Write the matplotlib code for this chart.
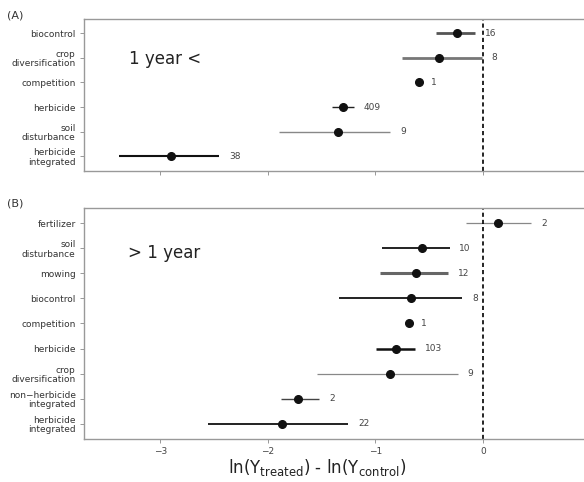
import numpy as np
import matplotlib.pyplot as plt

# panel A: effects within one year
cats_a = ['biocontrol', 'crop\ndiversification', 'competition', 'herbicide',
          'soil\ndisturbance', 'herbicide\nintegrated']
mean_a = [-0.24, -0.41, -0.59, -1.30, -1.35, -2.90]
lo_a = [-0.44, -0.75, np.nan, -1.40, -1.90, -3.38]
hi_a = [-0.07, -0.01, np.nan, -1.20, -0.86, -2.45]
n_a = [16, 8, 1, 409, 9, 38]

# panel B: effects after more than one year
cats_b = ['fertilizer', 'soil\ndisturbance', 'mowing', 'biocontrol', 'competition',
          'herbicide', 'crop\ndiversification', 'non\u2212herbicide\nintegrated',
          'herbicide\nintegrated']
mean_b = [0.14, -0.57, -0.62, -0.67, -0.69, -0.81, -0.86, -1.72, -1.87]
lo_b = [-0.16, -0.94, -0.96, -1.34, np.nan, -0.99, -1.54, -1.88, -2.56]
hi_b = [0.45, -0.31, -0.32, -0.19, np.nan, -0.63, -0.23, -1.52, -1.25]
n_b = [2, 10, 12, 8, 1, 103, 9, 2, 22]

# line styles for the CI bars
style_a = [('#555555', 2.0), ('#777777', 2.0), ('#000000', 1.0),
           ('#222222', 1.0), ('#888888', 1.0), ('#111111', 1.5)]
style_b = [('#888888', 0.9), ('#111111', 1.3), ('#666666', 2.2), ('#111111', 1.3),
           ('#000000', 1.0), ('#111111', 1.8), ('#888888', 0.9), ('#444444', 1.0),
           ('#111111', 1.3)]

fig = plt.figure(figsize=(5.84, 4.82), dpi=100)
ax_a = fig.add_axes([0.1438, 0.645, 0.856, 0.3154])
ax_b = fig.add_axes([0.1438, 0.0892, 0.856, 0.4793])


def forest(ax, cats, mean, lo, hi, n, styles, show_xlabels):
    y = np.arange(len(cats))
    for i in range(len(cats)):
        col, lw = styles[i]
        if not np.isnan(lo[i]):
            ax.plot([lo[i], hi[i]], [y[i], y[i]], color=col, lw=lw, solid_capstyle='butt')
            xt = hi[i] + 0.09
        else:
            xt = mean[i] + 0.11
        ax.plot(mean[i], y[i], 'o', color='#111111', ms=5.5)
        ax.text(xt, y[i], str(n[i]), va='center', ha='left', fontsize=6.5, color='#444444')
    ax.axvline(0, color='black', ls=(0, (2.5, 1.8)), lw=1.2)
    ax.set_xlim(-3.71, 0.94)
    ax.set_yticks(y)
    ax.set_yticklabels(cats, fontsize=6.5, color='#333333', linespacing=1.05)
    ax.set_xticks([-3, -2, -1, 0])
    if show_xlabels:
        ax.set_xticklabels(['\u22123', '\u22122', '\u22121', '0'], fontsize=6.5, color='#444444')
    else:
        ax.set_xticklabels([])
    ax.tick_params(length=3, width=0.6, color='#888888', pad=3)
    for s in ['left', 'bottom', 'top']:
        ax.spines[s].set_color('#999999')
        ax.spines[s].set_linewidth(1.0)
    ax.spines['right'].set_visible(False)


forest(ax_a, cats_a, mean_a, lo_a, hi_a, n_a, style_a, False)
forest(ax_b, cats_b, mean_b, lo_b, hi_b, n_b, style_b, True)
ax_a.set_ylim(5.6, -0.57)
ax_b.set_ylim(8.6, -0.6)

ax_a.text(-3.29, 1.05, '1 year <', fontsize=12, color='#222222', va='center')
ax_b.text(-3.30, 1.2, '> 1 year', fontsize=12, color='#222222', va='center')

fig.text(0.012, 0.968, '(A)', fontsize=8, color='#333333', va='center')
fig.text(0.012, 0.578, '(B)', fontsize=8, color='#333333', va='center')

fig.text(317 / 584, 1 - 467 / 482,
         r'ln(Y$_{\mathrm{treated}}$) - ln(Y$_{\mathrm{control}}$)',
         fontsize=12, color='#222222', ha='center', va='center')

fig.savefig('out.png', dpi=100)
